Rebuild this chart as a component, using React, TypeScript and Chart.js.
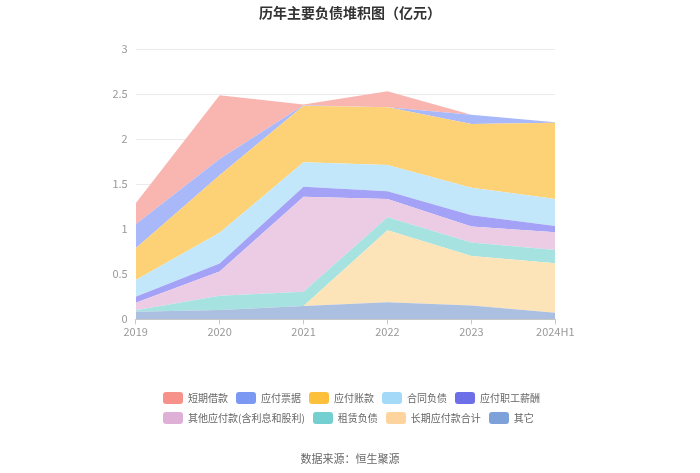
import React, { useEffect, useRef } from "react";
import { Chart, registerables } from "chart.js";

Chart.register(...registerables);

const categories = ["2019", "2020", "2021", "2022", "2023", "2024H1"];

// stacked bottom-first
const otherValues = [0.085, 0.104, 0.148, 0.189, 0.152, 0.074];
const longTermPayables = [0, 0, 0, 0.8, 0.552, 0.548];
const leaseLiabilities = [0.015, 0.159, 0.159, 0.144, 0.148, 0.148];
const otherPayables = [0.085, 0.267, 1.056, 0.204, 0.178, 0.197];
const employeePay = [0.065, 0.09, 0.111, 0.085, 0.126, 0.07];
const contractLiabilities = [0.187, 0.343, 0.27, 0.293, 0.307, 0.3];
const accountsPayable = [0.353, 0.637, 0.63, 0.641, 0.707, 0.848];
const notesPayable = [0.265, 0.18, 0.004, 0, 0.104, 0.005];
const shortTermLoans = [0.235, 0.71, 0.01, 0.177, 0, 0];

const yTicks = [0, 0.5, 1, 1.5, 2, 2.5, 3];

const seriesDefs = [
  { label: "其它", data: otherValues, fill: "#abc0e1", legend: "#7fa1da" },
  { label: "长期应付款合计", data: longTermPayables, fill: "#fde4b8", legend: "#fdd49e" },
  { label: "租赁负债", data: leaseLiabilities, fill: "#a6e2e0", legend: "#74cfd0" },
  { label: "其他应付款(含利息和股利)", data: otherPayables, fill: "#eccbe4", legend: "#deb0d8" },
  { label: "应付职工薪酬", data: employeePay, fill: "#a3a2f6", legend: "#6d6fe8" },
  { label: "合同负债", data: contractLiabilities, fill: "#c3e7fa", legend: "#a4daf7" },
  { label: "应付账款", data: accountsPayable, fill: "#fdd276", legend: "#fcc03c" },
  { label: "应付票据", data: notesPayable, fill: "#a8b8f8", legend: "#7b99f3" },
  { label: "短期借款", data: shortTermLoans, fill: "#f9b6b1", legend: "#f7928b" },
];

const FONT = "'Noto Sans CJK SC', 'Noto Sans', sans-serif";

export default function App() {
  const ref = useRef<HTMLCanvasElement | null>(null);

  useEffect(() => {
    if (!ref.current) return;
    const chart = new Chart(ref.current, {
      type: "line",
      data: {
        labels: categories,
        datasets: seriesDefs.map((s, i) => ({
          label: s.label,
          data: s.data,
          backgroundColor: s.fill,
          borderColor: s.fill,
          borderWidth: 0,
          pointRadius: 0,
          pointHoverRadius: 0,
          tension: 0,
          fill: i === 0 ? "origin" : "-1",
        })),
      },
      options: {
        responsive: false,
        animation: false,
        layout: { padding: { top: 49.3, left: 0, right: 144.7, bottom: 123.7 } },
        plugins: {
          legend: { display: false },
          title: { display: false },
          tooltip: { enabled: false },
        },
        scales: {
          x: {
            offset: false,
            grid: { drawOnChartArea: false, drawTicks: true, tickLength: 5, color: "#c8c8c8" },
            border: { display: true, color: "#c8c8c8" },
            ticks: { color: "#999", font: { size: 11, family: FONT }, padding: 1, maxRotation: 0, autoSkip: false },
            afterFit: (scale: any) => {
              scale.height = 30;
            },
          },
          y: {
            stacked: true,
            min: 0,
            max: 3,
            afterBuildTicks: (scale: any) => {
              scale.ticks = yTicks.map((v) => ({ value: v }));
            },
            grid: { color: "#ebebeb", drawTicks: false },
            border: { display: false },
            ticks: {
              color: "#999",
              font: { size: 11, family: FONT },
              padding: 8,
              callback: (v: any) => String(Number(v)),
            },
            afterFit: (scale: any) => {
              scale.width = 135.7;
            },
          },
        },
      },
    });
    return () => chart.destroy();
  }, []);

  const legendItems = [...seriesDefs].reverse();
  const row1 = legendItems.slice(0, 5);
  const row2 = legendItems.slice(5);

  const renderRow = (items: typeof seriesDefs, top: number) => (
    <div
      style={{
        position: "absolute",
        left: 163,
        top,
        height: 20,
        display: "flex",
        alignItems: "center",
        whiteSpace: "nowrap",
      }}
    >
      {items.map((it, i) => (
        <div key={it.label} style={{ display: "flex", alignItems: "center", marginRight: i < items.length - 1 ? 8 : 0 }}>
          <span
            style={{
              display: "inline-block",
              width: 20,
              height: 12,
              borderRadius: 3,
              background: it.legend,
              marginRight: 5,
            }}
          />
          <span style={{ fontSize: 10, color: "#666", fontFamily: FONT, lineHeight: "20px" }}>{it.label}</span>
        </div>
      ))}
    </div>
  );

  return (
    <div style={{ position: "fixed", left: 0, top: 0, width: 700, height: 473, background: "#fff" }}>
      <canvas ref={ref} width={700} height={473} style={{ position: "absolute", left: 0, top: 0 }} />
      <div
        style={{
          position: "absolute",
          left: 0,
          top: 2,
          width: 700,
          textAlign: "center",
          fontFamily: FONT,
          fontWeight: "bold",
          fontSize: 14,
          lineHeight: "20px",
          color: "#333",
        }}
      >
        历年主要负债堆积图（亿元）
      </div>
      {renderRow(row1, 388)}
      {renderRow(row2, 407.5)}
      <div
        style={{
          position: "absolute",
          left: 0,
          top: 449,
          width: 700,
          textAlign: "center",
          fontFamily: FONT,
          fontSize: 11,
          lineHeight: "18px",
          color: "#666",
        }}
      >
        数据来源：恒生聚源
      </div>
    </div>
  );
}
